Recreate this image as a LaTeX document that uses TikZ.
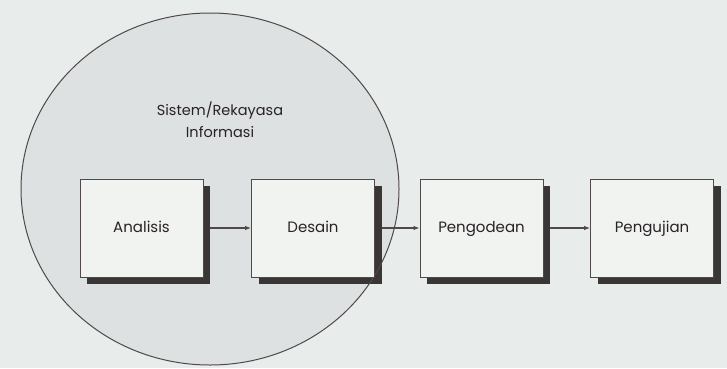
\documentclass[tikz,border=0pt]{standalone}
\usepackage{fontspec}
\setmainfont{Poppins}
\usetikzlibrary{arrows.meta}
\definecolor{bgc}{RGB}{232,236,234}
\definecolor{inc}{RGB}{221,225,225}
\definecolor{boxc}{RGB}{241,243,241}
\definecolor{shc}{RGB}{58,54,54}
\definecolor{linec}{RGB}{80,72,74}
\definecolor{txtc}{RGB}{40,34,38}
\tikzset{
  stepbox/.style={draw=linec, line width=0.9pt, fill=boxc, minimum width=123pt, minimum height=98pt,
    inner sep=0pt, font=\fontsize{15}{17}\selectfont, text=txtc, text height=11pt, text depth=3pt},
  shadowbox/.style={fill=shc},
  flow/.style={draw=linec, line width=1.1pt, -{Latex[length=6pt,width=4.5pt]}},
  titletext/.style={align=center, text=txtc, font=\fontsize{14.5}{22}\selectfont}
}
\begin{document}
\begin{tikzpicture}[x=1pt,y=-1pt]
\fill[bgc] (0,0) rectangle (727,368);
\useasboundingbox (0,0) rectangle (727,368);
\fill[inc] (210,189) ellipse [x radius=189, y radius=176];
% shadows
\foreach \cx in {141.5,313,481.5,652}{
  \fill[shadowbox] (\cx-61.5+7,179+7) rectangle (\cx+61.5+7,277+7);
}
\draw[draw=linec, line width=1pt] (210,189) ellipse [x radius=189, y radius=176];
\node[titletext] (title) at (220,120) {Sistem/Rekayasa\\Informasi};
\node[stepbox] (a) at (141.5,228) {Analisis};
\node[stepbox] (d) at (313,228) {Desain};
\node[stepbox] (p) at (481.5,228) {Pengodean};
\node[stepbox] (u) at (652,228) {Pengujian};
\draw[flow] ([xshift=7pt]a.east) -- (d.west);
\draw[flow] ([xshift=7pt]d.east) -- (p.west);
\draw[flow] ([xshift=7pt]p.east) -- (u.west);
\end{tikzpicture}
\end{document}
